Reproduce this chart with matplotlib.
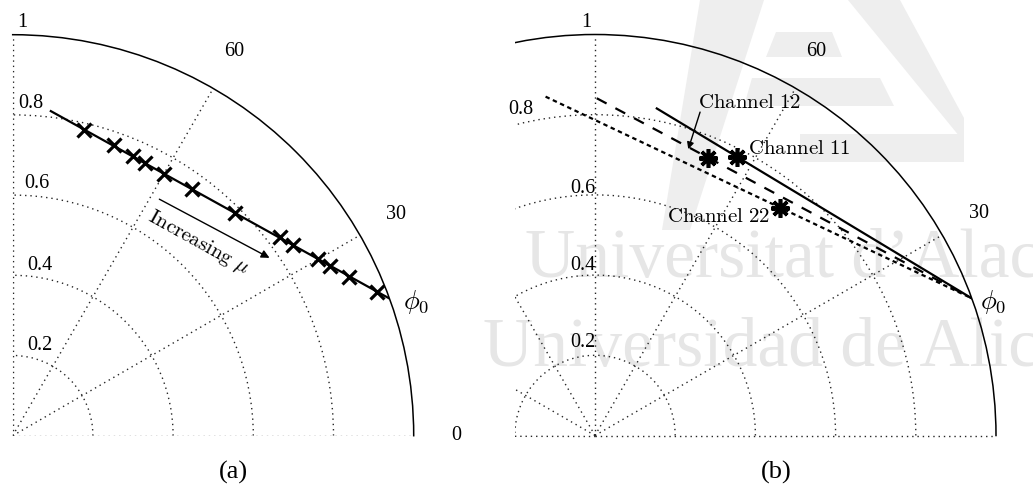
import numpy as np
import matplotlib
matplotlib.use("Agg")
import matplotlib.pyplot as plt
from matplotlib.patches import Polygon

plt.rcParams['font.family'] = ['Liberation Serif', 'DejaVu Serif']
plt.rcParams['mathtext.fontset'] = 'cm'

# --- data --------------------------------------------------------------
phi0 = 20.0                       # angle (deg) where every locus meets the unit circle

# (a) locus as mu increases
locus_start = (83.3, 0.815)       # (theta deg, r)
mu_theta = [76.8, 70.8, 66.8, 64.1, 60.0, 54.0, 45.0, 36.6, 34.2, 30.1, 28.1, 25.3, 21.6]
mu_r = [0.783, 0.767, 0.760, 0.757, 0.755, 0.760, 0.784, 0.830, 0.846, 0.881, 0.897, 0.928, 0.976]

# (b) channel loci and their operating points
channels = ['Channel 11', 'Channel 12', 'Channel 22']
chan_start_theta = [79.3, 89.7, 98.3]
chan_start_r = [0.830, 0.841, 0.854]
chan_pt_theta = [63.0, 67.9, 50.8]
chan_pt_r = [0.779, 0.746, 0.731]

r_ticks = [0.2, 0.4, 0.6, 0.8]
r_tick_labels = ['0.2', '0.4', '0.6', '0.8']
theta_labels_a = [0, 30, 60]
theta_labels_b = [30, 60]

# --- layout ------------------------------------------------------------
W, H = 1033, 488
R = 401.0
fig = plt.figure(figsize=(W / 100, H / 100), dpi=100)


def box(left, top, w, h):
    return [left / W, (H - top - h) / H, w / W, h / H]


def xy_to_polar(x, y):
    # position given in units of the radius, relative to the pole
    return np.arctan2(y, x), np.hypot(x, y)


# faint university watermark (logo + name) behind both panels
wm_grey = '#e6e6e6'
logo = [
    [(700, 0), (764, 0), (690, 230), (662, 230)],      # left leg
    [(848, 0), (900, 0), (964, 118), (964, 142)],      # right leg
    [(776, 32), (832, 32), (842, 57), (766, 57)],      # upper bar
    [(752, 78), (880, 78), (894, 106), (744, 106)],    # middle bar
    [(800, 134), (964, 134), (964, 162), (800, 162)],  # lower bar
]
for pts in logo:
    fig.add_artist(Polygon([(x / W, 1 - y / H) for x, y in pts], closed=True,
                           transform=fig.transFigure, color='#eeeeee', lw=0, zorder=-6))
wm = dict(color=wm_grey, fontsize=50, zorder=-5, family='Liberation Serif')
fig.text(525 / W, 1 - 277 / H, 'Universitat d\u2019Alacant', **wm)
fig.text(483 / W, 1 - 366 / H, 'Universidad de Alicante', **wm)

grid_kw = dict(color='0.15', linestyle=(0, (1, 2.8)), linewidth=1.0)


def setup(ax, tmax, angles):
    ax.set_thetamin(0)
    ax.set_thetamax(tmax)
    ax.set_rlim(0, 1)
    ax.set_rticks(r_ticks)
    ax.set_yticklabels([])
    ax.set_thetagrids(angles, labels=[''] * len(angles))
    ax.tick_params(length=0)
    ax.grid(True, **grid_kw)
    ax.spines['polar'].set_linewidth(1.1)
    # straight edges are left to the dotted 0/90/180 grid lines
    for side in ('start', 'end', 'inner'):
        ax.spines[side].set_edgecolor('none')
    ax.patch.set_visible(False)


# ---------------- (a) ----------------
axa = fig.add_axes(box(12.7, 435.7 - R, R, R), projection='polar', zorder=2)
setup(axa, 90, [0, 30, 60, 90])

axa.plot(np.deg2rad([locus_start[0], phi0]), [locus_start[1], 1.0], color='black', lw=1.6)
axa.plot(np.deg2rad(mu_theta), mu_r, ls='none', marker='x', ms=9.5, mew=2.3, color='black')

for t in theta_labels_a:
    axa.text(np.deg2rad(t), 1.105, str(t), ha='center', va='center', fontsize=14.5)
for (x, y), s in zip([(0.068, 0.226), (0.068, 0.424), (0.061, 0.629), (0.045, 0.829)], r_tick_labels):
    th, r = xy_to_polar(x, y)
    axa.text(th, r, s, ha='center', va='center', fontsize=14.5)
th, r = xy_to_polar(0.025, 1.030)
axa.text(th, r, '1', ha='center', va='center', fontsize=14.5)
th, r = xy_to_polar(1.005, 0.333)
axa.text(th, r, r'$\phi_0$', ha='center', va='center', fontsize=19)

axa.annotate('', xy=(np.deg2rad(34.7), 0.779), xytext=(np.deg2rad(58.2), 0.694),
             arrowprops=dict(arrowstyle='-|>', color='black', lw=1.0, mutation_scale=12,
                             shrinkA=0, shrinkB=0))
axa.text(np.deg2rad(46.1), 0.667, r'$\mathrm{Increasing}\ \mu$', rotation=-29,
         rotation_mode='anchor', ha='center', va='center', fontsize=15)

fig.text(233 / W, 1 - 472 / H, '(a)', ha='center', va='center', fontsize=19)

# ---------------- (b) ----------------
# a half-disc wedge is centred vertically in its square box
axb = fig.add_axes(box(595 - R, 435.5 - 1.5 * R, 2 * R, 2 * R), projection='polar', zorder=1)
setup(axb, 180, [0, 30, 60, 90, 120, 150, 180])

styles = ['-', (0, (5, 4.5)), (0, (2, 1.6))]
for i in range(len(channels)):
    axb.plot(np.deg2rad([chan_start_theta[i], phi0]), [chan_start_r[i], 1.0],
             color='black', lw=1.6, ls=styles[i])
    axb.plot(np.deg2rad(chan_pt_theta[i]), chan_pt_r[i], ls='none', marker=(8, 2, 0),
             ms=13.5, mew=2.6, color='black')

for t in theta_labels_b:
    axb.text(np.deg2rad(t), 1.105, str(t), ha='center', va='center', fontsize=14.5)
for (x, y), s in zip([(-0.031, 0.233), (-0.031, 0.425), (-0.031, 0.617), (-0.186, 0.812)], r_tick_labels):
    th, r = xy_to_polar(x, y)
    axb.text(th, r, s, ha='center', va='center', fontsize=14.5)
th, r = xy_to_polar(-0.021, 1.029)
axb.text(th, r, '1', ha='center', va='center', fontsize=14.5)
th, r = xy_to_polar(0.992, 0.333)
axb.text(th, r, r'$\phi_0$', ha='center', va='center', fontsize=19)

th, r = xy_to_polar(0.386, 0.829)
axb.text(th, r, r'$\mathrm{Channel\ 12}$', ha='center', va='center', fontsize=15)
axb.annotate('', xy=(np.deg2rad(71.96), 0.751), xytext=(np.deg2rad(72.0), 0.848),
             arrowprops=dict(arrowstyle='-|>', color='black', lw=1.0, mutation_scale=10,
                             shrinkA=0, shrinkB=0))
th, r = xy_to_polar(0.382, 0.714)
axb.text(th, r, r'$\mathrm{Channel\ 11}$', ha='left', va='center', fontsize=15)
th, r = xy_to_polar(0.436, 0.544)
axb.text(th, r, r'$\mathrm{Channel\ 22}$', ha='right', va='center', fontsize=15)

fig.text(776.7 / W, 1 - 472 / H, '(b)', ha='center', va='center', fontsize=19)

# panel (b) is cut at x = -0.2 of the radius: clip its grid and outer arc there
fig.canvas.draw()
clip = Polygon([(0.4, 0.2), (1.1, 0.2), (1.1, 0.8), (0.4, 0.8)], closed=True,
               transform=axb.transAxes)
for tick in axb.xaxis.get_major_ticks() + axb.yaxis.get_major_ticks():
    tick.gridline.set_clip_path(clip)
axb.spines['polar'].set_clip_path(clip)

fig.savefig('out.png', dpi=100, facecolor='white')
